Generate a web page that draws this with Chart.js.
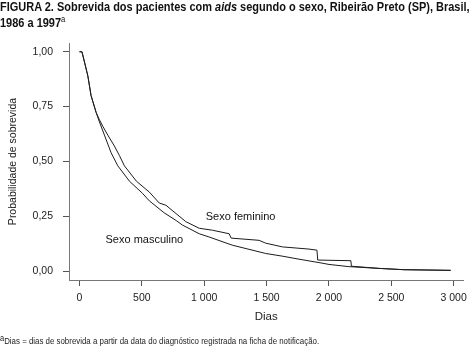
<!DOCTYPE html>
<html>
<head>
<meta charset="utf-8">
<script src="https://cdn.jsdelivr.net/npm/chart.js@4/dist/chart.umd.min.js"></script>
<style>
  body { margin: 0; background: #fff; width: 473px; height: 351px; overflow: hidden; position: relative;
         font-family: "Liberation Sans", Arial, sans-serif; color: #111; }
  #title { position: absolute; left: 0; top: -1px; font-weight: bold; font-size: 13px; line-height: 15.5px; white-space: nowrap;
           transform: scaleX(0.845); transform-origin: 0 0; }
  #title sup { font-size: 9px; font-weight: normal; vertical-align: 5px; line-height: 0; }
  #note { position: absolute; left: 0; top: 335px; font-size: 9.5px; line-height: 11px; white-space: nowrap; color: #222;
          transform: scaleX(0.83); transform-origin: 0 0; }
  #note sup { font-size: 9px; vertical-align: 3px; line-height: 0; }
  #wrap { position: absolute; left: 0; top: 0; width: 473px; height: 351px; }
</style>
</head>
<body>
<div id="wrap"><canvas id="myChart"></canvas></div>
<div id="title">FIGURA 2. Sobrevida dos pacientes com <i>aids</i> segundo o sexo, Ribeirão Preto (SP), Brasil,<br>1986 a 1997<sup>a</sup></div>
<div id="note"><sup>a</sup>Dias = dias de sobrevida a partir da data do diagnóstico registrada na ficha de notificação.</div>
<script>
// Kaplan-Meier curves (days, survival probability)
var maleDays = [0, 20, 67, 93, 133, 160, 200, 253, 307, 400, 504, 560, 680, 776, 824, 960, 1040, 1224, 1493, 1624, 1760, 1944, 2000, 2160, 2400, 2600, 2976];
var maleSurv = [1, 1, 0.89, 0.80, 0.724, 0.68, 0.62, 0.54, 0.48, 0.41, 0.355, 0.32, 0.265, 0.23, 0.21, 0.17, 0.155, 0.118, 0.08, 0.068, 0.054, 0.036, 0.03, 0.02, 0.012, 0.006, 0.003];

var femDays = [0, 20, 67, 93, 133, 160, 187, 227, 280, 320, 360, 456, 560, 640, 693, 853, 960, 1067, 1200, 1216, 1440, 1493, 1627, 1840, 1904, 1910, 2176, 2180, 2400, 2600, 2976];
var femSurv = [1, 1, 0.89, 0.80, 0.724, 0.69, 0.66, 0.62, 0.57, 0.527, 0.48, 0.41, 0.36, 0.31, 0.30, 0.225, 0.195, 0.186, 0.17, 0.15, 0.14, 0.127, 0.11, 0.10, 0.095, 0.05, 0.047, 0.022, 0.012, 0.006, 0.003];

var xTicks = [0, 500, 1000, 1500, 2000, 2500, 3000];
var yTicks = [0, 0.25, 0.5, 0.75, 1];

// curve labels: [text, day, probability]
var curveLabels = [
  ["Sexo feminino", 1292, 0.233],
  ["Sexo masculino", 520, 0.129]
];

function pts(xs, ys) {
  return xs.map(function (x, i) { return { x: x, y: ys[i] }; });
}

var fam = '"Liberation Sans", Arial, sans-serif';
var axisFont = { family: fam, size: 10.5 };

var labelPlugin = {
  id: 'curveLabels',
  afterDatasetsDraw: function (chart) {
    var c = chart.ctx, xs = chart.scales.x, ys = chart.scales.y;
    c.save();
    c.font = '11px ' + fam;
    c.fillStyle = '#111';
    c.textAlign = 'center';
    c.textBaseline = 'alphabetic';
    curveLabels.forEach(function (l) {
      c.fillText(l[0], xs.getPixelForValue(l[1]), ys.getPixelForValue(l[2]));
    });
    c.restore();
  }
};

var ctx = document.getElementById('myChart').getContext('2d');
var chart = new Chart(ctx, {
  type: 'line',
  data: {
    datasets: [
      { label: 'Sexo feminino', data: pts(femDays, femSurv), borderColor: '#1c1c1c', borderWidth: 1, pointRadius: 0, tension: 0, fill: false },
      { label: 'Sexo masculino', data: pts(maleDays, maleSurv), borderColor: '#1c1c1c', borderWidth: 1, pointRadius: 0, tension: 0, fill: false }
    ]
  },
  options: {
    responsive: true,
    maintainAspectRatio: false,
    animation: false,
    layout: { padding: { left: 0, top: 43, right: 8, bottom: 27 } },
    plugins: { legend: { display: false }, tooltip: { enabled: false } },
    scales: {
      x: {
        type: 'linear', min: -84, max: 3078,
        afterBuildTicks: function (s) { s.ticks = xTicks.map(function (v) { return { value: v }; }); },
        afterFit: function (s) { s.height = 44; },
        grid: { display: true, drawOnChartArea: false, drawTicks: true, tickLength: 6, color: '#555' },
        border: { display: true, color: '#777' },
        ticks: {
          color: '#222', font: axisFont, padding: 6, maxRotation: 0,
          callback: function (v) { return String(v).replace(/\B(?=(\d{3})+(?!\d))/g, ' '); }
        },
        title: { display: true, text: 'Dias', color: '#222', padding: { top: 0, bottom: 0 },
                 font: { family: fam, size: 11.5 } }
      },
      y: {
        type: 'linear', min: -0.041, max: 1.04,
        afterBuildTicks: function (s) { s.ticks = yTicks.map(function (v) { return { value: v }; }); },
        afterFit: function (s) { s.width = 69; },
        grid: { display: true, drawOnChartArea: false, drawTicks: true, tickLength: 6, color: '#555' },
        border: { display: true, color: '#777' },
        ticks: {
          color: '#222', font: axisFont, padding: 10,
          callback: function (v) { return v.toFixed(2).replace('.', ','); }
        },
        title: { display: true, text: 'Probabilidade de sobrevida', color: '#222', padding: { top: 7, bottom: 0 },
                 font: { family: fam, size: 10.5 } }
      }
    }
  },
  plugins: [labelPlugin]
});
</script>
</body>
</html>
